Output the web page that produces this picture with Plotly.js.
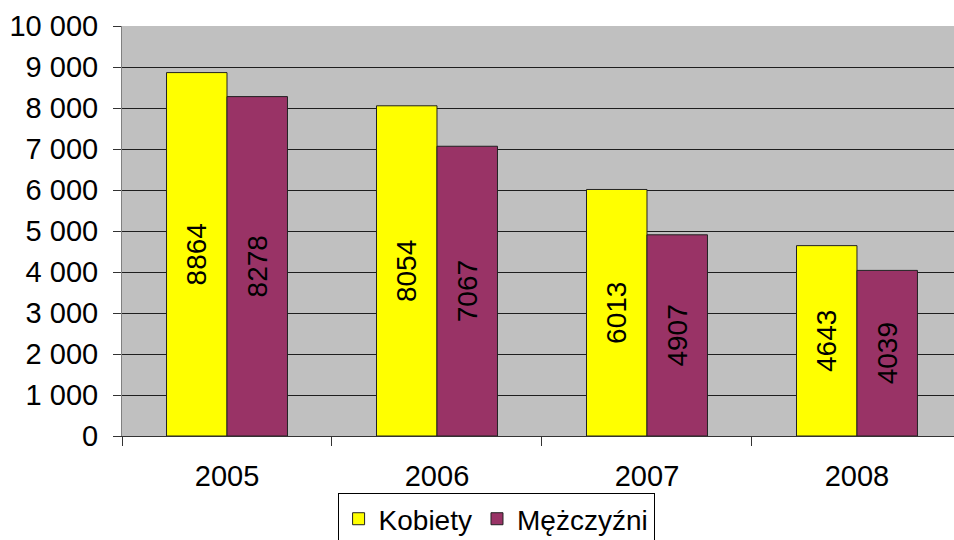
<!DOCTYPE html>
<html>
<head>
<meta charset="utf-8">
<script src="https://cdn.plot.ly/plotly-3.0.1.min.js"></script>
<style>html,body{margin:0;padding:0;background:#fff;}#chart{width:954px;height:540px;}</style>
</head>
<body>
<div id="chart"></div>
<script>
var years = ["2005", "2006", "2007", "2008"];
var kobiety = [8864, 8054, 6013, 4643];
var mezczyzni = [8278, 7067, 4907, 4039];
var seriesNames = ["Kobiety", "Mężczyźni"];

var font = "Liberation Sans, Arial, sans-serif";
var fs = 29;

var traces = [
  {
    type: "bar", name: seriesNames[0], x: years, y: kobiety,
    text: kobiety.map(String), textposition: "inside", insidetextanchor: "middle",
    textangle: -90, textfont: {family: font, size: 28, color: "#000"},
    marker: {color: "#FFFF00", line: {color: "#222", width: 1}},
    hoverinfo: "x+y"
  },
  {
    type: "bar", name: seriesNames[1], x: years, y: mezczyzni,
    text: mezczyzni.map(String), textposition: "inside", insidetextanchor: "middle",
    textangle: -90, textfont: {family: font, size: 28, color: "#000"},
    marker: {color: "#993366", line: {color: "#222", width: 1}},
    hoverinfo: "x+y"
  }
];

var layout = {
  width: 954, height: 540,
  margin: {l: 122, r: 0, t: 26, b: 104, pad: 0},
  paper_bgcolor: "#ffffff",
  plot_bgcolor: "#C0C0C0",
  separators: ", ",
  barmode: "group",
  bargap: 0.424,
  bargroupgap: 0,
  font: {family: font, size: fs, color: "#000"},
  xaxis: {
    type: "category",
    range: [-0.5, 3.462],
    tickson: "boundaries",
    ticks: "outside", ticklen: 9, tickcolor: "#333", tickwidth: 1,
    showline: true, linecolor: "#333", linewidth: 1,
    showgrid: false, zeroline: false,
    tickfont: {family: font, size: fs, color: "#000"},
    ticklabelstandoff: 14
  },
  yaxis: {
    range: [0, 10000], dtick: 1000, tick0: 0,
    tickformat: ",d",
    ticks: "outside", ticklen: 8, tickcolor: "#333", tickwidth: 1,
    showline: true, linecolor: "#808080", linewidth: 1,
    showgrid: true, gridcolor: "#1e1e1e", gridwidth: 1,
    zeroline: false,
    tickfont: {family: font, size: fs, color: "#000"},
    ticklabelstandoff: 9
  },
  showlegend: true,
  legend: {
    orientation: "h",
    xref: "container", yref: "container",
    x: 0.52, xanchor: "center",
    y: 0.087, yanchor: "top",
    bordercolor: "#000", borderwidth: 1, bgcolor: "#fff",
    font: {family: font, size: 28, color: "#000"},
    traceorder: "normal"
  }
};

Plotly.newPlot("chart", traces, layout, {displayModeBar: false, staticPlot: true});
</script>
</body>
</html>
